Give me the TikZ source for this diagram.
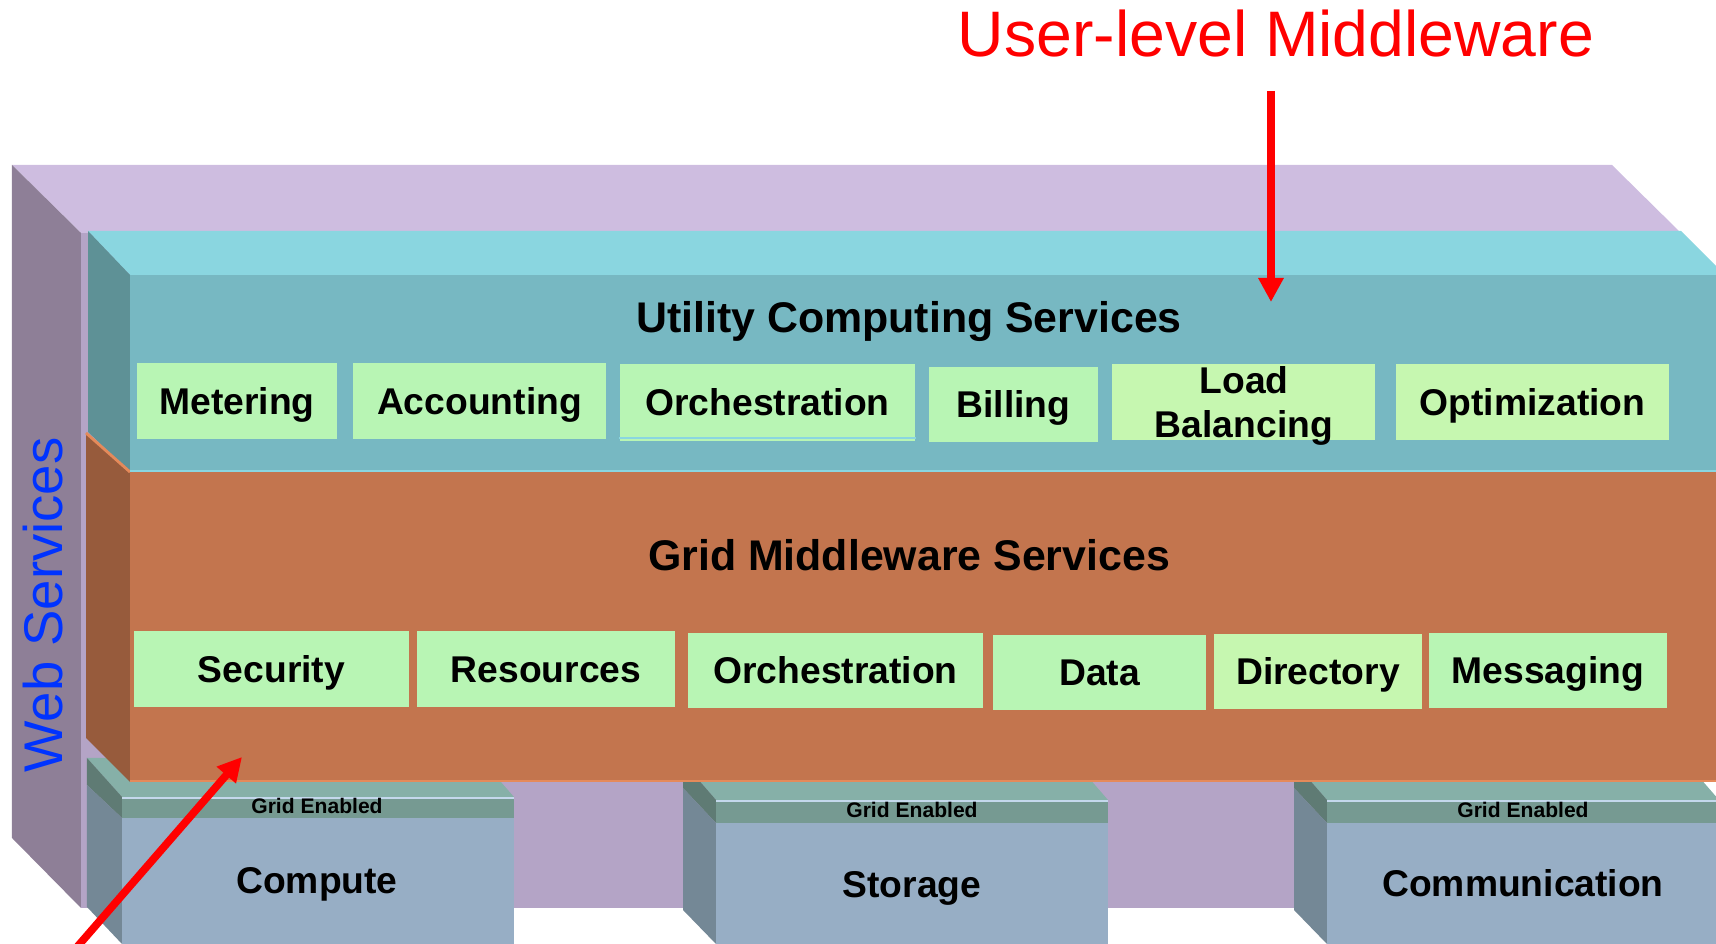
\documentclass[tikz,border=0pt]{standalone}
\usepackage{fontspec}
\setmainfont{Liberation Sans}
\usepackage{tikz}
\usetikzlibrary{arrows.meta}
\definecolor{wsTop}{HTML}{CEBDE0}
\definecolor{wsSide}{HTML}{8E7F97}
\definecolor{wsFront}{HTML}{B4A4C6}
\definecolor{wsBlue}{HTML}{0033FF}
\definecolor{ucTop}{HTML}{8AD6E0}
\definecolor{ucFront}{HTML}{77B8C2}
\definecolor{ucSide}{HTML}{5E9196}
\definecolor{gmFront}{HTML}{C3754E}
\definecolor{gmSide}{HTML}{975B3C}
\definecolor{gmEdge}{HTML}{E58A5A}
\definecolor{svcGreen}{HTML}{B8F5B4}
\definecolor{svcLime}{HTML}{C6F7B0}
\definecolor{resTop}{HTML}{86B0A8}
\definecolor{resBand}{HTML}{769A92}
\definecolor{resBandSide}{HTML}{5F7B74}
\definecolor{resFront}{HTML}{97AEC5}
\definecolor{resSide}{HTML}{748896}
\definecolor{resLine}{HTML}{C4D8EC}
\tikzstyle{svc} = [fill=svcGreen, inner sep=0pt, font=\fontsize{10.6}{12.5}\selectfont\bfseries, text height=7.6pt, text depth=0pt]
\tikzstyle{layer} = [font=\fontsize{12.2}{14}\selectfont\bfseries, text height=8.7pt, text depth=0pt]
\tikzstyle{gridtag} = [font=\fontsize{6}{7}\selectfont\bfseries, text height=4.3pt, text depth=0pt]
\tikzstyle{resname} = [font=\fontsize{10.6}{12.5}\selectfont\bfseries, text height=7.6pt, text depth=0pt]
\tikzstyle{redarrow} = [-{Triangle[length=0.24cm,width=0.24cm]}, draw=red, line width=0.077cm]

\begin{document}
\begin{tikzpicture}
	\useasboundingbox (0,0) rectangle (17.16,9.44);
	\clip (0,0) rectangle (17.16,9.44);
	% web services block
	\fill[wsTop] (0.12,7.79) -- (16.12,7.79) -- (16.81,7.11) -- (0.81,7.11) -- cycle;
	\fill[wsSide] (0.12,7.79) -- (0.81,7.11) -- (0.81,0.36) -- (0.12,1.06) -- cycle;
	\fill[wsFront] (0.81,0.36) rectangle (16.81,7.11);
	\node[rotate=90, anchor=base, text=wsBlue, font=\fontsize{15.5}{18}\selectfont] (ws) at (0.63,3.39) {Web Services};
	% grid enabled resources
	\fill[resTop] (0.87,1.86) -- (4.80,1.86) -- (5.14,1.47) -- (1.22,1.47) -- cycle;
	\fill[resBandSide] (0.87,1.86) -- (1.22,1.47) -- (1.22,1.26) -- (0.87,1.59) -- cycle;
	\fill[resSide] (0.87,1.59) -- (1.22,1.26) -- (1.22,0) -- (0.87,0.37) -- cycle;
	\fill[resBand] (1.22,1.26) rectangle (5.14,1.47);
	\fill[resFront] (1.22,0) rectangle (5.14,1.26);
	\draw[resLine, line width=0.5pt] (1.22,1.46) -- (5.14,1.46);
	\fill[resTop] (6.83,1.82) -- (10.75,1.82) -- (11.08,1.44) -- (7.16,1.44) -- cycle;
	\fill[resBandSide] (6.83,1.82) -- (7.16,1.44) -- (7.16,1.21) -- (6.83,1.56) -- cycle;
	\fill[resSide] (6.83,1.56) -- (7.16,1.21) -- (7.16,0) -- (6.83,0.34) -- cycle;
	\fill[resBand] (7.16,1.21) rectangle (11.08,1.44);
	\fill[resFront] (7.16,0) rectangle (11.08,1.21);
	\draw[resLine, line width=0.5pt] (7.16,1.43) -- (11.08,1.43);
	\fill[resTop] (12.94,1.82) -- (16.86,1.82) -- (17.19,1.44) -- (13.27,1.44) -- cycle;
	\fill[resBandSide] (12.94,1.82) -- (13.27,1.44) -- (13.27,1.21) -- (12.94,1.56) -- cycle;
	\fill[resSide] (12.94,1.56) -- (13.27,1.21) -- (13.27,0) -- (12.94,0.34) -- cycle;
	\fill[resBand] (13.27,1.21) rectangle (17.3,1.44);
	\fill[resFront] (13.27,0) rectangle (17.3,1.21);
	\draw[resLine, line width=0.5pt] (13.27,1.43) -- (17.3,1.43);
	\node[gridtag] (cptag) at (3.17,1.38) {Grid Enabled};
	\node[resname] (compute) at (3.17,0.64) {Compute};
	\node[gridtag] (sttag) at (9.12,1.345) {Grid Enabled};
	\node[resname] (storage) at (9.12,0.595) {Storage};
	\node[gridtag] (cmtag) at (15.23,1.345) {Grid Enabled};
	\node[resname] (comm) at (15.23,0.605) {Communication};
	% utility computing layer
	\fill[ucTop] (0.88,7.13) -- (16.81,7.13) -- (17.25,6.69) -- (1.30,6.69) -- cycle;
	\fill[ucSide] (0.88,7.13) -- (1.30,6.69) -- (1.30,4.72) -- (0.88,5.12) -- cycle;
	\fill[ucFront] (1.30,4.72) rectangle (17.3,6.69);
	% grid middleware layer
	\fill[gmSide] (0.86,5.11) -- (1.30,4.72) -- (1.30,1.62) -- (0.86,2.06) -- cycle;
	\fill[gmFront] (1.30,1.62) rectangle (17.3,4.72);
	\draw[gmEdge, line width=0.8pt] (0.86,5.11) -- (1.30,4.72);
	\draw[gmEdge, line width=0.8pt] (1.30,1.63) -- (17.3,1.63);
	\draw[ucTop, line width=0.8pt] (1.30,4.73) -- (17.3,4.73);
	\node[layer] (uc) at (9.09,6.27) {Utility Computing Services};
	\node[svc, minimum width=2.00cm, minimum height=0.76cm] (met) at (2.37,5.43) {Metering};
	\node[svc, minimum width=2.53cm, minimum height=0.76cm] (acc) at (4.795,5.43) {Accounting};
	\node[svc, minimum width=2.95cm, minimum height=0.77cm] (orchu) at (7.675,5.415) {Orchestration};
	\draw[ucTop, line width=0.5pt] ([yshift=0.035cm]orchu.south west) -- ([yshift=0.035cm]orchu.south east);
	\node[svc, minimum width=1.69cm, minimum height=0.75cm] (bill) at (10.135,5.395) {Billing};
	\node[svc, fill=svcLime, minimum width=2.63cm, minimum height=0.76cm] (lb) at (12.435,5.42) {};
	\node[align=center, font=\fontsize{10.6}{12.5}\selectfont\bfseries, inner sep=0pt] (lbtext) at (12.44,5.38) {Load\\Balancing};
	\node[svc, fill=svcLime, minimum width=2.73cm, minimum height=0.76cm] (opt) at (15.325,5.42) {Optimization};
	\node[layer] (gm) at (9.09,3.89) {Grid Middleware Services};
	\node[svc, minimum width=2.75cm, minimum height=0.76cm] (sec) at (2.715,2.75) {Security};
	\node[svc, minimum width=2.58cm, minimum height=0.76cm] (rsrc) at (5.46,2.75) {Resources};
	\node[svc, minimum width=2.95cm, minimum height=0.75cm] (orchg) at (8.355,2.735) {Orchestration};
	\node[svc, minimum width=2.13cm, minimum height=0.75cm] (data) at (10.995,2.715) {Data};
	\node[svc, fill=svcLime, minimum width=2.08cm, minimum height=0.75cm] (dir) at (13.18,2.725) {Directory};
	\node[svc, minimum width=2.38cm, minimum height=0.75cm] (msg) at (15.48,2.735) {Messaging};
	% labels and arrows
	\node[anchor=base, text=red, font=\fontsize{18.3}{22}\selectfont] (umw) at (12.76,8.87) {User-level Middleware};
	\coordinate (umtail) at (12.71,8.53);
	\coordinate (umhead) at (12.71,6.42);
	\draw[redarrow] (umtail) -- (umhead);
	\coordinate (gmtail) at (0.71,-0.10);
	\coordinate (gmhead) at (2.42,1.87);
	\draw[redarrow] (gmtail) -- (gmhead);
\end{tikzpicture}
\end{document}
